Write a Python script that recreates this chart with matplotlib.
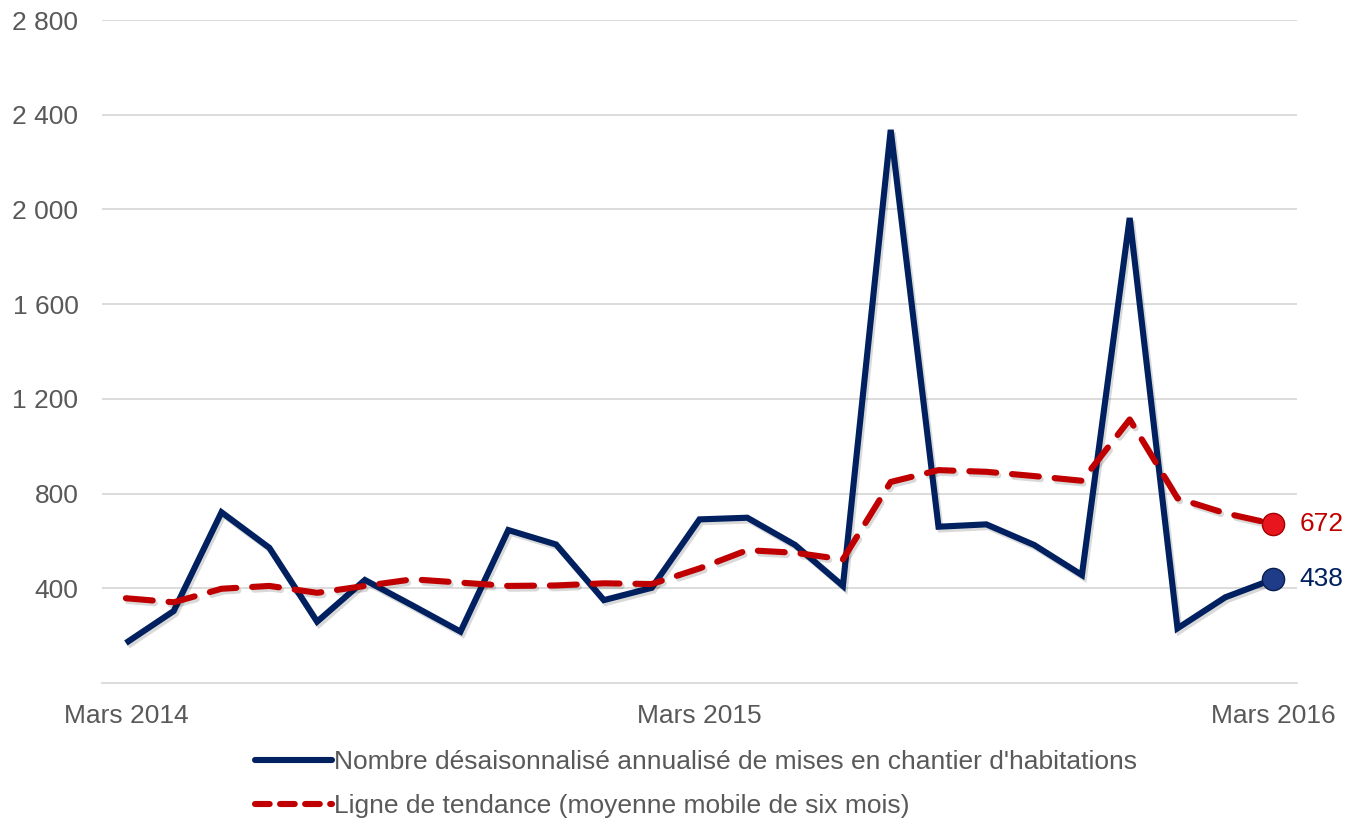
import matplotlib
matplotlib.use("Agg")
import matplotlib.pyplot as plt
import matplotlib.patheffects as pe
from matplotlib.lines import Line2D

plt.rcParams['font.family'] = ['Liberation Sans', 'DejaVu Sans']

months = list(range(25))
tick_positions = [0, 12, 24]
tick_labels = ["Mars 2014", "Mars 2015", "Mars 2016"]

mises_en_chantier = [169, 304, 721, 571, 259, 435, 327, 217, 646, 585, 350, 402,
                     691, 698, 583, 410, 2336, 660, 670, 583, 456, 1964, 231, 362, 438]
tendance = [358, 341, 398, 410, 381, 410, 438, 424, 410, 412, 421, 418,
            484, 561, 550, 522, 849, 899, 892, 874, 854, 1113, 780, 717, 672]

yticks = [400, 800, 1200, 1600, 2000, 2400, 2800]
ytick_labels = ["400", "800", "1 200", "1 600", "2 000", "2 400", "2 800"]

label_blue = "Nombre désaisonnalisé annualisé de mises en chantier d'habitations"
label_red = "Ligne de tendance (moyenne mobile de six mois)"

BLUE = "#002060"
RED = "#C00000"
GRAY = "#595959"
GRID = "#D9D9D9"
FS = 19

fig = plt.figure(figsize=(13.57, 8.23), dpi=100)
ax = fig.add_axes([102/1357, 1-683/823, 1195/1357, (683-20)/823])

shadow = [pe.SimpleLineShadow(offset=(1.5, -2), alpha=0.15, shadow_color='black'), pe.Normal()]

ax.plot(months, mises_en_chantier, color=BLUE, lw=4.4, solid_joinstyle='miter',
        solid_capstyle='butt', path_effects=shadow, zorder=3)
ax.plot(months, tendance, color=RED, lw=4.4, dashes=(4.4, 2.6),
        dash_capstyle='round', path_effects=shadow, zorder=4)

ax.plot([months[-1]], [mises_en_chantier[-1]], 'o', color="#1F3C88", ms=16,
        mec="#0A1E50", mew=1, zorder=5)
ax.plot([months[-1]], [tendance[-1]], 'o', color="#E8141E", ms=16,
        mec="#A00000", mew=1, zorder=5)
ax.annotate(f"{mises_en_chantier[-1]}", (months[-1], mises_en_chantier[-1]),
            xytext=(19, 0), textcoords='offset points', va='center', ha='left',
            color=BLUE, fontsize=FS)
ax.annotate(f"{tendance[-1]}", (months[-1], tendance[-1]),
            xytext=(19, 0), textcoords='offset points', va='center', ha='left',
            color=RED, fontsize=FS)

ax.set_xlim(-0.5, 24.5)
ax.set_ylim(0, 2800)
ax.set_yticks(yticks)
ax.set_yticklabels(ytick_labels)
ax.set_xticks(tick_positions)
ax.set_xticklabels(tick_labels)
ax.tick_params(axis='y', length=0, pad=17, labelsize=FS, labelcolor=GRAY)
ax.tick_params(axis='x', length=0, pad=15, labelsize=FS, labelcolor=GRAY)
ax.grid(axis='y', color=GRID, lw=1.3)
ax.set_axisbelow(True)
for s in ['left', 'right', 'top']:
    ax.spines[s].set_visible(False)
ax.spines['bottom'].set_color(GRID)
ax.spines['bottom'].set_linewidth(1.3)

handles = [Line2D([], [], color=BLUE, lw=4.4, solid_capstyle='round'),
           Line2D([], [], color=RED, lw=4.4, dashes=(2.4, 1.7), dash_capstyle='round')]
fig.legend(handles, [label_blue, label_red], loc='center left',
           bbox_to_anchor=(255/1357, 1-784/823), frameon=False, fontsize=FS,
           labelcolor=GRAY, handlelength=2.9, handletextpad=0.1, labelspacing=0.75,
           borderpad=0, borderaxespad=0)

fig.savefig("out.png", dpi=100)
